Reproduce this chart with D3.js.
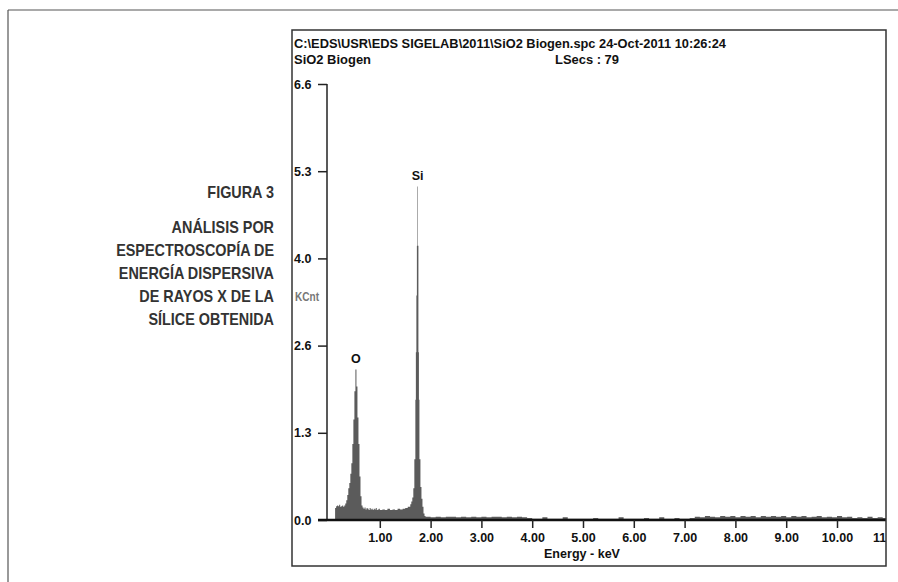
<!DOCTYPE html>
<html>
<head>
<meta charset="utf-8">
<script src="https://cdn.jsdelivr.net/npm/d3@7/dist/d3.min.js"></script>
<style>
  body { margin: 0; background: #fff; }
  svg { display: block; }
  .narrow { font-family: "Liberation Sans Narrow", "Arial Narrow", "Liberation Sans", sans-serif; font-weight: bold; fill: #111; }
  .caption { font-family: "Liberation Sans", Arial, sans-serif; font-weight: bold; fill: #333; font-size: 16px; }
</style>
</head>
<body>
<div id="chart"></div>
<script>
// spectrum (step histogram), energy in keV, counts in KCnt
var energyKeV = [0.00,0.12,0.14,0.16,0.18,0.20,0.22,0.24,0.26,0.28,0.30,0.32,0.34,0.36,0.38,0.40,0.42,0.44,0.46,0.48,
  0.50,0.52,0.54,0.56,0.58,0.60,0.62,0.64,0.66,0.68,0.70,0.72,0.74,0.76,0.78,0.80,0.82,0.84,0.86,0.88,
  0.90,0.92,0.94,0.96,0.98,1.00,1.05,1.10,1.15,1.20,1.25,1.30,1.35,1.40,1.45,1.50,1.55,1.60,1.62,1.64,
  1.66,1.68,1.70,1.71,1.72,1.73,1.74,1.75,1.76,1.77,1.78,1.80,1.82,1.84,1.86,1.88,1.90,
  2.0,2.1,2.2,2.3,2.4,2.5,2.6,2.7,2.8,2.9,3.0,3.1,3.2,3.3,3.4,3.5,3.6,3.7,3.8,3.9,
  4.0,4.1,4.2,4.3,4.4,4.5,4.6,4.7,4.8,4.9,5.0,5.1,5.2,5.3,5.4,5.5,5.6,5.7,5.8,5.9,
  6.0,6.1,6.2,6.3,6.4,6.5,6.6,6.7,6.8,6.9,7.0,7.1,7.2,7.3,7.4,7.5,7.6,7.7,7.8,7.9,
  8.0,8.1,8.2,8.3,8.4,8.5,8.6,8.7,8.8,8.9,9.0,9.1,9.2,9.3,9.4,9.5,9.6,9.7,9.8,9.9,
  10.0,10.1,10.2,10.3,10.4,10.5,10.6,10.7,10.8,10.9,11.0];
var countsKCnt = [0,0.18,0.21,0.22,0.21,0.23,0.20,0.21,0.22,0.20,0.22,0.25,0.30,0.38,0.48,0.56,0.70,0.86,1.15,1.52,
  1.95,2.28,2.02,1.55,1.15,0.66,0.36,0.22,0.19,0.17,0.19,0.16,0.18,0.17,0.15,0.18,0.16,0.17,0.15,0.17,
  0.16,0.18,0.15,0.16,0.17,0.15,0.16,0.15,0.17,0.15,0.16,0.15,0.17,0.16,0.17,0.18,0.20,0.24,0.28,0.34,
  0.48,0.92,1.82,2.54,3.40,4.15,5.05,4.15,2.54,1.82,0.92,0.50,0.32,0.20,0.10,0.06,0.05,
  0.04,0.05,0.04,0.05,0.05,0.04,0.05,0.04,0.05,0.04,0.05,0.04,0.05,0.05,0.04,0.05,0.04,0.05,0.04,0.03,
  0.02,0.02,0.04,0.02,0.02,0.02,0.04,0.02,0.02,0.02,0.02,0.02,0.03,0.02,0.02,0.02,0.02,0.04,0.02,0.02,
  0.02,0.02,0.03,0.02,0.02,0.04,0.02,0.02,0.03,0.02,0.02,0.03,0.05,0.04,0.06,0.05,0.04,0.06,0.05,0.06,
  0.04,0.06,0.05,0.06,0.04,0.06,0.05,0.06,0.05,0.06,0.04,0.06,0.05,0.06,0.04,0.05,0.06,0.04,0.05,0.04,
  0.06,0.04,0.05,0.03,0.04,0.03,0.05,0.03,0.04,0.03,0.03];

var yTicks = [0, 1.32, 2.64, 3.96, 5.28, 6.6];
var xTicks = [1,2,3,4,5,6,7,8,9,10,11];
var peakNames = ["O", "Si"];
var peakEnergy = [0.53, 1.745];
var peakHeight = [2.28, 5.05];
var headerLines = ["C:\\EDS\\USR\\EDS SIGELAB\\2011\\SiO2 Biogen.spc  24-Oct-2011 10:26:24", "SiO2 Biogen", "LSecs :  79"];
var captionTitle = "FIGURA 3";
var captionLines = ["ANÁLISIS POR", "ESPECTROSCOPÍA DE", "ENERGÍA DISPERSIVA", "DE RAYOS X DE LA", "SÍLICE OBTENIDA"];

var W = 898, H = 582;
var box = {left: 292, top: 30, right: 886, bottom: 566};

var svg = d3.select("#chart").append("svg")
  .attr("width", W)
  .attr("height", H);

// page frame lines
svg.append("line").attr("x1", 8).attr("x2", W).attr("y1", 10).attr("y2", 10)
  .attr("stroke", "#555").attr("stroke-width", 1.2);
svg.append("line").attr("x1", 8).attr("x2", 8).attr("y1", 10).attr("y2", H)
  .attr("stroke", "#555").attr("stroke-width", 1.2);

// caption on the left, squeezed a bit so it looks condensed
var cap = svg.append("g").attr("transform", "translate(274,0) scale(0.9,1)");
cap.append("text").attr("class", "caption")
  .attr("x", 0).attr("y", 198)
  .attr("text-anchor", "end")
  .text(captionTitle);
cap.selectAll(".capline")
  .data(captionLines)
  .enter()
  .append("text")
  .attr("class", "caption capline")
  .attr("x", 0)
  .attr("y", function(d, i){ return 233 + i * 23; })
  .attr("text-anchor", "end")
  .text(String);

svg.append("defs").append("clipPath").attr("id", "boxclip")
  .append("rect")
  .attr("x", box.left).attr("y", box.top)
  .attr("width", box.right - box.left).attr("height", box.bottom - box.top);

var x = d3.scaleLinear().domain([0, 11]).range([329, 329 + 11 * 50.8]);
var y = d3.scaleLinear().domain([0, 6.6]).range([520, 84]);

var spectrum = energyKeV.map(function(e, i){ return {e: e, c: countsKCnt[i]}; });

var plot = svg.append("g").attr("clip-path", "url(#boxclip)");

plot.append("path")
  .datum(spectrum)
  .attr("fill", "#5b5b5b")
  .attr("d", d3.area()
    .curve(d3.curveStepAfter)
    .x(function(d){ return x(d.e); })
    .y0(y(0))
    .y1(function(d){ return y(d.c); }));

// y axis
var yAxis = plot.append("g")
  .attr("transform", "translate(327,0)")
  .call(d3.axisLeft(y).tickValues(yTicks).tickSize(9).tickPadding(15).tickFormat(d3.format(".1f")));
yAxis.select(".domain").attr("d", "M0," + y(6.6) + "V" + y(0)).attr("stroke", "#222").attr("stroke-width", 1.5);
yAxis.selectAll(".tick line").attr("stroke", "#222").attr("stroke-width", 1.5);
yAxis.selectAll(".tick text")
  .attr("class", "narrow")
  .attr("text-anchor", "start")
  .attr("x", -33)
  .style("font-size", "12.5px");

// x axis
var xAxis = plot.append("g")
  .attr("transform", "translate(0," + y(0) + ")")
  .call(d3.axisBottom(x).tickValues(xTicks).tickSize(8).tickPadding(5).tickFormat(d3.format(".2f")));
xAxis.select(".domain").attr("d", "M318,0H" + box.right).attr("stroke", "#111").attr("stroke-width", 2.5);
xAxis.selectAll(".tick line").attr("stroke", "#222").attr("stroke-width", 1.5);
xAxis.selectAll(".tick text")
  .attr("class", "narrow")
  .style("font-size", "12.5px");

// peak labels
plot.selectAll(".peak")
  .data(peakNames)
  .enter()
  .append("text")
  .attr("class", "narrow peak")
  .attr("x", function(d, i){ return x(peakEnergy[i]); })
  .attr("y", function(d, i){ return y(peakHeight[i]) - 6; })
  .attr("text-anchor", "middle")
  .style("font-size", "12.5px")
  .text(String);

// header
var headX = [294, 294, 555];
var headY = [48, 64, 64];
var headLen = [432, 77, 64];
svg.selectAll(".head")
  .data(headerLines)
  .enter()
  .append("text")
  .attr("class", "narrow head")
  .attr("x", function(d, i){ return headX[i]; })
  .attr("y", function(d, i){ return headY[i]; })
  .attr("textLength", function(d, i){ return headLen[i]; })
  .attr("lengthAdjust", "spacingAndGlyphs")
  .style("font-size", "13.5px")
  .text(String);

// axis titles
svg.append("text").attr("class", "narrow")
  .attr("x", 295).attr("y", 301)
  .attr("textLength", 24).attr("lengthAdjust", "spacingAndGlyphs")
  .style("font-size", "13px")
  .style("fill", "#777")
  .text("KCnt");
svg.append("text").attr("class", "narrow")
  .attr("x", 582).attr("y", 558)
  .attr("text-anchor", "middle")
  .attr("textLength", 76).attr("lengthAdjust", "spacingAndGlyphs")
  .style("font-size", "13px")
  .text("Energy - keV");

// chart box
svg.append("rect")
  .attr("x", box.left).attr("y", box.top)
  .attr("width", box.right - box.left).attr("height", box.bottom - box.top)
  .attr("fill", "none")
  .attr("stroke", "#333")
  .attr("stroke-width", 1.5);
</script>
</body>
</html>
